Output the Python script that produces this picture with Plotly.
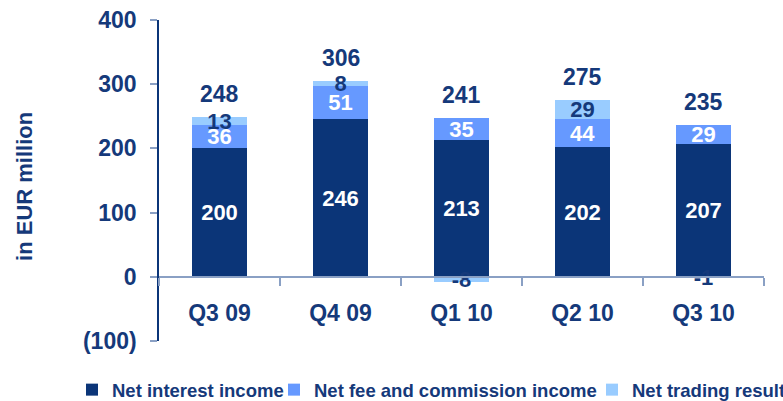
import plotly.graph_objects as go

quarters = ["Q3 09", "Q4 09", "Q1 10", "Q2 10", "Q3 10"]
net_interest = [200, 246, 213, 202, 207]
net_fee = [36, 51, 35, 44, 29]
net_trading = [13, 8, -8, 29, -1]
totals = [248, 306, 241, 275, 235]

y_ticks = [-100, 0, 100, 200, 300, 400]
y_tick_text = ["(100)", "0", "100", "200", "300", "400"]

NAVY = "#0b3578"
MID = "#6699ff"
LIGHT = "#99ccff"
TEXT = "#15397a"
AXIS_GREY = "#8aa0c4"
FONT = "Liberation Sans, Arial, sans-serif"

fig = go.Figure()


def add_series(name, values, color, text_color, legend_id):
    fig.add_trace(go.Bar(
        x=quarters, y=values, name=name,
        legend=legend_id,
        marker=dict(color=color, line=dict(width=0)),
        width=0.455,
        text=[str(v) for v in values],
        textposition="inside",
        insidetextanchor="middle",
        constraintext="none",
        textangle=0,
        insidetextfont=dict(family=FONT, size=22, color=text_color, weight="bold"),
        hoverinfo="skip",
    ))


add_series("Net interest income", net_interest, NAVY, "white", "legend")
add_series("Net fee and commission income", net_fee, MID, "white", "legend2")
add_series("Net trading result", net_trading, LIGHT, TEXT, "legend3")

# totals above each stacked column
for q, a, b, c, t in zip(quarters, net_interest, net_fee, net_trading, totals):
    top = a + max(b, 0) + max(c, 0)
    fig.add_annotation(
        x=q, y=top, text=str(t), showarrow=False,
        yanchor="bottom", yshift=8,
        font=dict(family=FONT, size=23, color=TEXT, weight="bold"),
    )

# rotated y-axis caption
fig.add_annotation(
    xref="paper", yref="paper", x=-0.2215, y=0.483,
    text="in EUR million", textangle=-90, showarrow=False,
    xanchor="center", yanchor="middle",
    font=dict(family=FONT, size=22, color=TEXT, weight="bold"),
)

legend_font = dict(family=FONT, size=18.5, color=TEXT, weight="bold")


def legend_box(x):
    return dict(
        orientation="h", x=x, xanchor="left",
        y=-0.153, yanchor="middle",
        font=legend_font, itemclick=False, itemdoubleclick=False,
        bgcolor="rgba(0,0,0,0)",
    )


fig.update_layout(
    width=783, height=401,
    margin=dict(l=159, r=19, t=20, b=60, autoexpand=False),
    plot_bgcolor="white", paper_bgcolor="white",
    barmode="relative",
    bargap=0,
    showlegend=True,
    legend=legend_box((72 - 159) / 605),
    legend2=legend_box((274 - 159) / 605),
    legend3=legend_box((592 - 159) / 605),
    font=dict(family=FONT, color=TEXT),
)

fig.update_xaxes(
    type="category",
    anchor="free", position=0.2,
    showline=True, linecolor=AXIS_GREY, linewidth=2,
    ticks="outside", tickson="boundaries", ticklen=8,
    tickcolor=AXIS_GREY, tickwidth=1.5,
    ticklabelstandoff=16,
    tickfont=dict(family=FONT, size=23, color=TEXT, weight="bold"),
    showgrid=False, zeroline=False,
    range=[-0.5, 4.5],
)

fig.update_yaxes(
    range=[-100, 400],
    tickvals=y_ticks, ticktext=y_tick_text,
    showline=True, linecolor=NAVY, linewidth=1.5,
    ticks="outside", ticklen=7, tickcolor=AXIS_GREY, tickwidth=1.5,
    ticklabelstandoff=9,
    tickfont=dict(family=FONT, size=23, color=TEXT, weight="bold"),
    showgrid=False, zeroline=False,
)

fig.write_html("out.html")
